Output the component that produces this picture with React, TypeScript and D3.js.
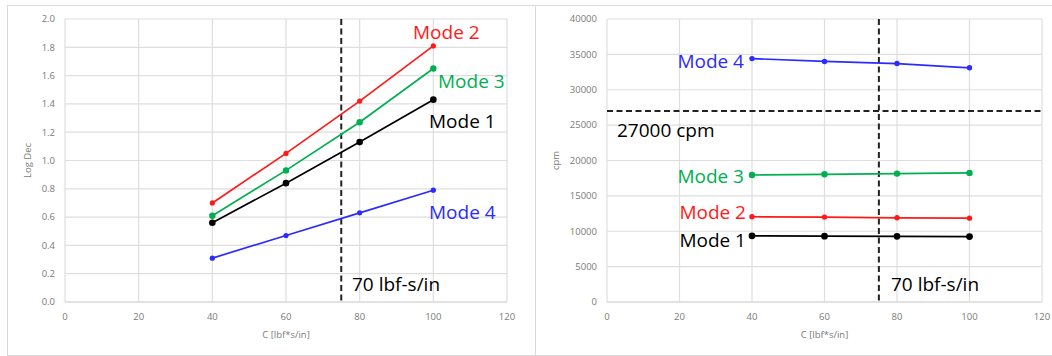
import React from "react";
import * as d3 from "d3";

// Damping coefficient sweep (lbf*s/in)
const dampingC = [40, 60, 80, 100];

// Logarithmic decrement per mode
const logDecMode1 = [0.56, 0.84, 1.13, 1.43];
const logDecMode2 = [0.7, 1.05, 1.42, 1.81];
const logDecMode3 = [0.61, 0.93, 1.27, 1.65];
const logDecMode4 = [0.31, 0.47, 0.63, 0.79];

// Damped natural frequency per mode (cpm)
const cpmMode1 = [9350, 9300, 9280, 9250];
const cpmMode2 = [12050, 12000, 11900, 11850];
const cpmMode3 = [17950, 18050, 18150, 18250];
const cpmMode4 = [34400, 34000, 33700, 33100];

const xTicks = [0, 20, 40, 60, 80, 100, 120];
const logDecTicks = [0, 0.2, 0.4, 0.6, 0.8, 1.0, 1.2, 1.4, 1.6, 1.8, 2.0];
const cpmTicks = [0, 5000, 10000, 15000, 20000, 25000, 30000, 35000, 40000];

const designC = 75;
const designCLabel = "70 lbf-s/in";
const speedLimit = 27000;
const speedLimitLabel = "27000 cpm";

const RED = "#ff1a1a";
const GREEN = "#00b050";
const BLACK = "#000000";
const BLUE = "#2b2bff";

type Series = { name: string; values: number[]; color: string; r: number };
type Note = { text: string; x: number; y: number; color: string; anchor: string };

const FONT = "'Open Sans', sans-serif";

function Panel(props: {
  left: number;
  right: number;
  top: number;
  bottom: number;
  yMax: number;
  yTicks: number[];
  yFormat: (v: number) => string;
  yTitle: string;
  yTitleX: number;
  series: Series[];
  notes: Note[];
  hLine?: number;
}) {
  const { left, right, top, bottom, yMax, yTicks, yFormat, yTitle, yTitleX, series, notes, hLine } = props;
  const x = d3.scaleLinear().domain([0, 120]).range([left, right]);
  const y = d3.scaleLinear().domain([0, yMax]).range([bottom, top]);
  const line = d3
    .line<number>()
    .x((_, i) => x(dampingC[i]))
    .y((v) => y(v));
  return (
    <g>
      {/* grid */}
      {yTicks.map((t) => (
        <line key={"gy" + t} x1={left} x2={right} y1={y(t)} y2={y(t)} stroke={t === 0 ? "#c6c6c6" : "#dedede"} strokeWidth={1.2} />
      ))}
      {xTicks.map((t) => (
        <line key={"gx" + t} x1={x(t)} x2={x(t)} y1={top} y2={bottom} stroke="#dedede" strokeWidth={1.2} />
      ))}
      {/* tick labels */}
      {yTicks.map((t) => (
        <text key={"ty" + t} x={left - 10} y={y(t) + 3.3} textAnchor="end" fontSize={9.5} fill="#7a7a7a" fontFamily={FONT}>
          {yFormat(t)}
        </text>
      ))}
      {xTicks.map((t) => (
        <text key={"tx" + t} x={x(t)} y={bottom + 18} textAnchor="middle" fontSize={9.5} fill="#7a7a7a" fontFamily={FONT}>
          {t}
        </text>
      ))}
      <text x={(left + right) / 2} y={bottom + 36} textAnchor="middle" fontSize={9.5} fill="#7a7a7a" fontFamily={FONT}>
        C [lbf*s/in]
      </text>
      <text
        transform={`translate(${yTitleX},${(top + bottom) / 2}) rotate(-90)`}
        textAnchor="middle"
        fontSize={9.5}
        fill="#7a7a7a"
        fontFamily={FONT}
      >
        {yTitle}
      </text>
      {/* reference lines */}
      <line x1={x(designC)} x2={x(designC)} y1={top} y2={bottom} stroke="#222" strokeWidth={2} strokeDasharray="6,3.5" />
      {hLine !== undefined && (
        <line x1={left} x2={right + 2} y1={y(hLine)} y2={y(hLine)} stroke="#222" strokeWidth={2} strokeDasharray="6,3.5" />
      )}
      {/* series */}
      {series.map((s) => (
        <g key={s.name}>
          <path d={line(s.values) || ""} fill="none" stroke={s.color} strokeWidth={1.7} />
          {s.values.map((v, i) => (
            <circle key={i} cx={x(dampingC[i])} cy={y(v)} r={s.r} fill={s.color} />
          ))}
        </g>
      ))}
      {notes.map((n) => (
        <text key={n.text + n.x} x={n.x} y={n.y} textAnchor={n.anchor} fontSize={19} fill={n.color} fontFamily={FONT}>
          {n.text}
        </text>
      ))}
    </g>
  );
}

export default function App() {
  const logDecSeries: Series[] = [
    { name: "Mode 4", values: logDecMode4, color: BLUE, r: 2.6 },
    { name: "Mode 1", values: logDecMode1, color: BLACK, r: 3.3 },
    { name: "Mode 3", values: logDecMode3, color: GREEN, r: 3.2 },
    { name: "Mode 2", values: logDecMode2, color: RED, r: 2.6 },
  ];
  const cpmSeries: Series[] = [
    { name: "Mode 1", values: cpmMode1, color: BLACK, r: 3.4 },
    { name: "Mode 2", values: cpmMode2, color: RED, r: 2.7 },
    { name: "Mode 3", values: cpmMode3, color: GREEN, r: 3.2 },
    { name: "Mode 4", values: cpmMode4, color: BLUE, r: 2.7 },
  ];
  const logDecNotes: Note[] = [
    { text: "Mode 2", x: 413, y: 39, color: RED, anchor: "start" },
    { text: "Mode 3", x: 438, y: 88, color: GREEN, anchor: "start" },
    { text: "Mode 1", x: 429, y: 128, color: BLACK, anchor: "start" },
    { text: "Mode 4", x: 429, y: 219, color: BLUE, anchor: "start" },
    { text: designCLabel, x: 352, y: 291, color: BLACK, anchor: "start" },
  ];
  const cpmNotes: Note[] = [
    { text: "Mode 4", x: 744, y: 68, color: BLUE, anchor: "end" },
    { text: speedLimitLabel, x: 617, y: 137, color: BLACK, anchor: "start" },
    { text: "Mode 3", x: 744, y: 183, color: GREEN, anchor: "end" },
    { text: "Mode 2", x: 746, y: 219, color: RED, anchor: "end" },
    { text: "Mode 1", x: 746, y: 247, color: BLACK, anchor: "end" },
    { text: designCLabel, x: 891, y: 291, color: BLACK, anchor: "start" },
  ];
  return (
    <svg
      width={1052}
      height={356}
      style={{ position: "absolute", left: 0, top: 0, background: "#fff" }}
    >
      <rect x={0} y={0} width={1052} height={356} fill="#fff" />
      {/* panel frames */}
      <line x1={7} x2={1052} y1={5.5} y2={5.5} stroke="#d9d9d9" />
      <line x1={7.5} x2={7.5} y1={5} y2={356} stroke="#d9d9d9" />
      <line x1={535.5} x2={535.5} y1={5} y2={356} stroke="#d9d9d9" />
      <line x1={7} x2={1052} y1={355.5} y2={355.5} stroke="#d9d9d9" />
      <Panel
        left={65}
        right={507}
        top={19}
        bottom={302}
        yMax={2}
        yTicks={logDecTicks}
        yFormat={(v) => v.toFixed(1)}
        yTitle="Log Dec"
        yTitleX={31}
        series={logDecSeries}
        notes={logDecNotes}
      />
      <Panel
        left={607}
        right={1042}
        top={19}
        bottom={302}
        yMax={40000}
        yTicks={cpmTicks}
        yFormat={(v) => String(v)}
        yTitle="cpm"
        yTitleX={559}
        series={cpmSeries}
        notes={cpmNotes}
        hLine={speedLimit}
      />
    </svg>
  );
}
